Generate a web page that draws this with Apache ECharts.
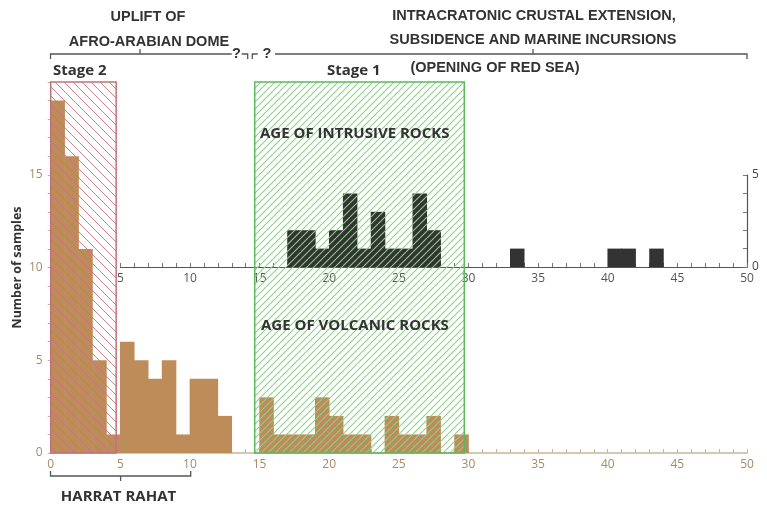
<!DOCTYPE html>
<html>
<head>
<meta charset="utf-8">
<script src="https://cdn.jsdelivr.net/npm/echarts@6/dist/echarts.min.js"></script>
<style>
html,body{margin:0;padding:0;background:#fff;}
#chart{width:767px;height:510px;}
</style>
</head>
<body>
<div id="chart"></div>
<script>
// ---- Data ----
// Volcanic rocks: count per 1-Ma bin, bins starting at 0,1,2,...
const volcanicBinStart = [0,1,2,3,4,5,6,7,8,9,10,11,12,13,14,15,16,17,18,19,20,21,22,23,24,25,26,27,28,29];
const volcanicCounts   = [19,16,11,5,1,6,5,4,5,1,4,4,2,0,0,3,1,1,1,3,2,1,1,0,2,1,1,2,0,1];
// Intrusive rocks: count per 1-Ma bin
const intrusiveBinStart = [17,18,19,20,21,22,23,24,25,26,27,33,40,41,43];
const intrusiveCounts   = [2,2,1,2,4,1,3,1,1,4,2,1,1,1,1];
// Stage ranges (Ma) shaded as hatched boxes
const stage2Range = [0, 4.7];
const stage1Range = [14.65, 29.7];
const volcanicYMax = 20;
const intrusiveYMax = 5;
const xTickLabels = [0,5,10,15,20,25,30,35,40,45,50];
const volcanicYLabels = [0,5,10,15];
const intrusiveYLabels = [0,5];

// ---- Styles ----
const BROWN = '#bd8c59';
const DARK = '#333333';
const TAN_TXT = '#a88a66';
const TAN_LINE = '#cdb497';
const ROSE = '#c4707b';
const ROSE_HATCH = '#c7737e';
const GREEN = '#5cb85c';
const GREEN_HATCH = '#8ccf8a';
const TXT = '#333333';

function hatch(color, size, dir, width) {
  const c = document.createElement('canvas');
  c.width = size; c.height = size;
  const ctx = c.getContext('2d');
  ctx.strokeStyle = color; ctx.lineWidth = width;
  for (let k = -1; k <= 1; k++) {
    const x = k * size;
    ctx.beginPath();
    if (dir === '\\') { ctx.moveTo(x, 0); ctx.lineTo(x + size, size); }
    else { ctx.moveTo(x, size); ctx.lineTo(x + size, 0); }
    ctx.stroke();
  }
  return c;
}
const stage2Pattern = hatch(ROSE_HATCH, 9, '\\', 0.9);
const stage1Pattern = hatch(GREEN_HATCH, 7, '/', 1.1);

const chart = echarts.init(document.getElementById('chart'));

function histItem(fill) {
  return function (params, api) {
    const x = api.value(0), v = api.value(1);
    if (!v) return null;
    const p0 = api.coord([x, v]);
    const p1 = api.coord([x + 1, 0]);
    return { type: 'rect', shape: { x: p0[0] - 0.3, y: p0[1], width: p1[0] - p0[0] + 0.6, height: p1[1] - p0[1] }, style: { fill: fill } };
  };
}
function stageItem(pattern, stroke) {
  return function (params, api) {
    const p0 = api.coord([api.value(0), api.value(2)]);
    const p1 = api.coord([api.value(1), 0]);
    return {
      type: 'group',
      children: [
        { type: 'rect', shape: { x: p0[0], y: p0[1], width: p1[0] - p0[0], height: p1[1] - p0[1] }, style: { fill: { image: pattern, repeat: 'repeat' } } },
        { type: 'rect', shape: { x: p0[0], y: p0[1], width: p1[0] - p0[0], height: p1[1] - p0[1] }, style: { fill: 'none', stroke: stroke, lineWidth: 1.5 } }
      ]
    };
  };
}

const FONT = '"Open Sans", "Noto Sans", sans-serif';
const xLabelFmt = v => (xTickLabels.indexOf(v) >= 0 ? String(v) : '');

const option = {
  animation: false,
  textStyle: { fontFamily: FONT },
  grid: [
    { left: 50.7, right: 20, top: 82, bottom: 57, containLabel: false, outerBoundsMode: 'none' },
    { left: 120.4, right: 20, top: 175, bottom: 243, containLabel: false, outerBoundsMode: 'none' }
  ],
  xAxis: [
    {
      gridIndex: 0, type: 'value', min: 0, max: 50, interval: 1,
      axisLine: { show: true, lineStyle: { color: TAN_LINE, width: 1.5 } },
      axisTick: { show: true, inside: true, length: 4, lineStyle: { color: TAN_LINE } },
      axisLabel: { formatter: xLabelFmt, color: TAN_TXT, fontSize: 12, margin: 6, fontFamily: FONT },
      splitLine: { show: false }
    },
    {
      gridIndex: 1, type: 'value', min: 5, max: 50, interval: 1,
      axisLine: { show: true, onZero: false, lineStyle: { color: '#555', width: 1.2 } },
      axisTick: { show: true, inside: true, length: 4, lineStyle: { color: '#777' } },
      axisLabel: { formatter: xLabelFmt, color: '#555', fontSize: 12, margin: 6, fontFamily: FONT },
      splitLine: { show: false }
    }
  ],
  yAxis: [
    {
      gridIndex: 0, type: 'value', min: 0, max: volcanicYMax, interval: 1,
      name: 'Number of samples', nameLocation: 'middle', nameGap: 27, nameRotate: 90, nameMoveOverlap: false,
      nameTextStyle: { color: TXT, fontWeight: 'bold', fontSize: 12.5, fontFamily: FONT },
      axisLine: { show: false },
      axisTick: { show: true, length: 3, lineStyle: { color: TAN_LINE } },
      axisLabel: { formatter: v => (volcanicYLabels.indexOf(v) >= 0 ? String(v) : ''), color: TAN_TXT, fontSize: 12, margin: 8, fontFamily: FONT },
      splitLine: { show: false }
    },
    {
      gridIndex: 1, type: 'value', min: 0, max: intrusiveYMax, interval: 1, position: 'right',
      axisLine: { show: true, lineStyle: { color: '#555', width: 1.2 } },
      axisTick: { show: true, inside: true, length: 4, lineStyle: { color: '#777' } },
      axisLabel: { formatter: v => (intrusiveYLabels.indexOf(v) >= 0 ? String(v) : ''), color: '#444', fontSize: 12, margin: 5, fontFamily: FONT },
      splitLine: { show: false }
    }
  ],
  series: [
    {
      type: 'custom', xAxisIndex: 0, yAxisIndex: 0, renderItem: histItem(BROWN),
      data: volcanicBinStart.map((b, i) => [b, volcanicCounts[i]]), z: 2
    },
    {
      type: 'custom', xAxisIndex: 1, yAxisIndex: 1, renderItem: histItem(DARK),
      data: intrusiveBinStart.map((b, i) => [b, intrusiveCounts[i]]), z: 2
    },
    {
      type: 'custom', xAxisIndex: 0, yAxisIndex: 0, renderItem: stageItem(stage2Pattern, ROSE),
      data: [[stage2Range[0], stage2Range[1], volcanicYMax]], z: 3
    },
    {
      type: 'custom', xAxisIndex: 0, yAxisIndex: 0, renderItem: stageItem(stage1Pattern, GREEN),
      data: [[stage1Range[0], stage1Range[1], volcanicYMax]], z: 3
    }
  ]
};
chart.setOption(option);

// ---- Annotations ----
const HEAD = { fontFamily: '"Liberation Sans", Arial, sans-serif', fontWeight: 'bold', fontSize: 14.5, fill: TXT };
const LBL = { fontFamily: FONT, fontWeight: 'bold', fontSize: 15, fill: TXT };
function txt(s, x, y, st, align) {
  return { type: 'text', x: x, y: y, z: 100, style: Object.assign({ text: s, textAlign: align || 'center', textVerticalAlign: 'middle' }, st) };
}
function pl(points, color) {
  return { type: 'polyline', z: 100, shape: { points: points }, style: { stroke: color || '#555', lineWidth: 1.3, fill: null } };
}
chart.setOption({
  graphic: [
    txt('UPLIFT OF', 148, 17, HEAD),
    txt('AFRO-ARABIAN DOME', 149, 42, HEAD),
    txt('INTRACRATONIC CRUSTAL EXTENSION,', 534, 16, HEAD),
    txt('SUBSIDENCE AND MARINE INCURSIONS', 533, 40, HEAD),
    txt('(OPENING OF RED SEA)', 495, 68, HEAD),
    pl([[50.5, 59], [50.5, 54], [231.7, 54]]),
    pl([[140, 54], [140, 49]]),
    txt('?', 236.5, 54, HEAD),
    pl([[241.7, 54], [247.7, 54], [247.7, 59]]),
    pl([[252.3, 59], [252.3, 54], [257.7, 54]]),
    txt('?', 267, 54, HEAD),
    pl([[275, 54], [747, 54], [747, 59]]),
    pl([[533, 54], [533, 49]]),
    txt('Stage 2', 53, 71, LBL, 'left'),
    txt('Stage 1', 327, 71, LBL, 'left'),
    txt('AGE OF INTRUSIVE ROCKS', 260, 134, LBL, 'left'),
    txt('AGE OF VOLCANIC ROCKS', 261, 326, LBL, 'left'),
    pl([[50.5, 471], [50.5, 476], [190.7, 476], [190.7, 471]]),
    pl([[120.6, 476], [120.6, 481]]),
    txt('HARRAT RAHAT', 118.5, 497, LBL)
  ]
});
</script>
</body>
</html>
